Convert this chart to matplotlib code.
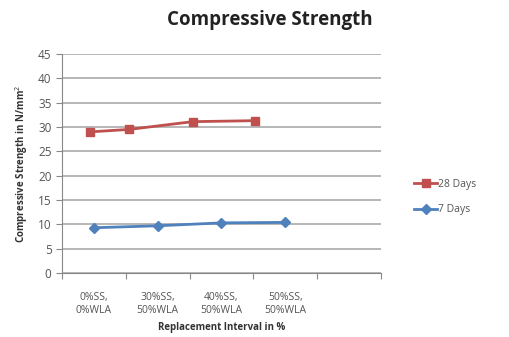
import matplotlib.pyplot as plt

plt.rcParams['font.family'] = ['Open Sans', 'DejaVu Sans']

# data
categories = ['0%SS,\n0%WLA', '30%SS,\n50%WLA', '40%SS,\n50%WLA', '50%SS,\n50%WLA']
days28_x = [-0.06, 0.55, 1.55, 2.53]
days28 = [29.0, 29.5, 31.1, 31.3]
days7_x = [0, 1, 2, 3]
days7 = [9.3, 9.7, 10.3, 10.4]
yticks = [0, 5, 10, 15, 20, 25, 30, 35, 40, 45]

fig = plt.figure(figsize=(5.1, 3.37), dpi=100)
ax = fig.add_axes([62 / 510, 1 - 273 / 337, (381 - 62) / 510, (273 - 54) / 337])

ax.plot(days28_x, days28, color='#C0504D', marker='s', markersize=6, linewidth=2, label='28 Days')
ax.plot(days7_x, days7, color='#4F81BD', marker='D', markersize=5, linewidth=2, label='7 Days')

ax.set_xlim(-0.5, 4.5)
ax.set_ylim(0, 45)
ax.set_yticks(yticks)
ax.set_xticks([-0.5, 0.5, 1.5, 2.5, 3.5, 4.5])
ax.set_xticklabels([])
ax.set_xticks(range(len(categories)), minor=True)
ax.set_xticklabels(categories, minor=True)
ax.tick_params(axis='x', which='minor', length=0, pad=14, labelsize=7.5, labelcolor='#555555')
ax.tick_params(axis='x', which='major', length=4, color='#888888', direction='out')
ax.tick_params(axis='y', length=4, color='#888888', labelsize=8.5, labelcolor='#555555')
ax.grid(axis='y', color='#AAAAAA', linewidth=1.2)
ax.set_axisbelow(True)
for s in ['top', 'right']:
    ax.spines[s].set_visible(False)
for s in ['left', 'bottom']:
    ax.spines[s].set_color('#888888')

ax.set_ylabel('Compressive Strength in N/mm$^2$', fontsize=7, fontweight='bold', color='#333333', labelpad=6)
ax.set_xlabel('Replacement Interval in %', fontsize=7, fontweight='bold', color='#333333', labelpad=4)
fig.text(270 / 510, 1 - 20 / 337, 'Compressive Strength', fontsize=13.5, fontweight='bold',
         ha='center', va='center', color='#222222')

fig.legend(loc='center left', bbox_to_anchor=(405 / 510, 1 - 197 / 337), frameon=False,
           fontsize=7.5, labelcolor='#555555', handlelength=2.2, handletextpad=0.1, labelspacing=1.4)

fig.savefig('out.png', dpi=100)
